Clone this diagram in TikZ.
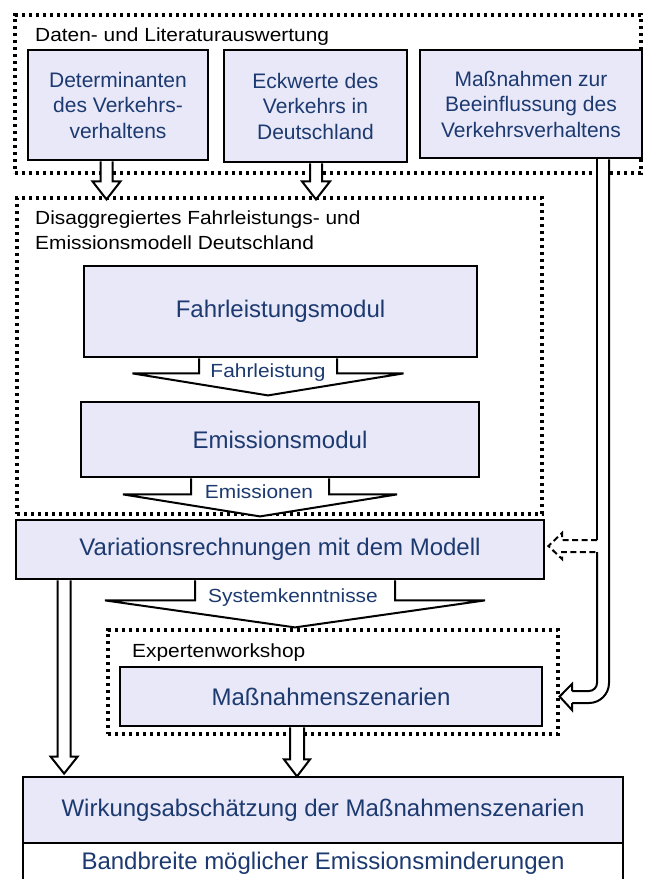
\documentclass[tikz,border=0pt]{standalone}
\usepackage{fontspec}
\setmainfont{Liberation Sans}
\newfontfamily\widesans[FakeStretch=1.1]{Liberation Sans}
\usetikzlibrary{calc}

\definecolor{boxfill}{RGB}{232,232,248}
\definecolor{navy}{RGB}{28,58,112}

\tikzset{
  stepbox/.style={draw=black, line width=2.8pt, fill=boxfill, inner sep=0pt,
    text=navy, align=center},
  plainbox/.style={draw=black, line width=2.8pt, fill=white, inner sep=0pt,
    text=navy, align=center},
  dotframe/.style={draw=black, line width=3.2pt, dash pattern=on 3.2pt off 3.8pt,
    inner sep=0pt},
  framelabel/.style={anchor=base west, inner sep=0pt, text=black,
    font=\widesans\fontsize{19}{25}\selectfont},
  flowlabel/.style={anchor=base, inner sep=0pt, text=navy,
    font=\widesans\fontsize{19}{23}\selectfont},
  hollow/.style={draw=black, line width=2pt, fill=white, line join=miter},
  feed/.style={draw=black, line width=2pt},
  bigtext/.style={font=\fontsize{24}{28}\selectfont},
  smalltext/.style={font=\fontsize{21}{25.5}\selectfont},
}

% block arrow: #1 start (only its y is used), #2 tip,
% #3 half stem width, #4 half head width, #5 head length
\newcommand\hollowarrow[5]{%
  \filldraw[hollow] let \p1=#1, \p2=#2 in
    (\x2-#3,\y1) -- (\x2-#3,\y2+#5) -- (\x2-#4,\y2+#5) -- (\x2,\y2)
    -- (\x2+#4,\y2+#5) -- (\x2+#3,\y2+#5) -- (\x2+#3,\y1);}

\begin{document}
\begin{tikzpicture}[x=1pt,y=-1pt]
\useasboundingbox (0,0) rectangle (646,879);
\clip (0,0) rectangle (646,879);

% dotted frames
\node[dotframe, minimum width=626pt, minimum height=158pt] (daten) at (328,94) {};
\node[dotframe, minimum width=525pt, minimum height=316pt] (disagg) at (279.5,356) {};
\node[dotframe, minimum width=450pt, minimum height=104pt] (xw) at (333,682) {};

\node[framelabel] (datenlab) at (35,41) {Daten- und Literaturauswertung};
\node[framelabel] (disagglab1) at (35,224) {Disaggregiertes Fahrleistungs- und};
\node[framelabel] (disagglab2) at (35,249.5) {Emissionsmodell Deutschland};
\node[framelabel] (xwlab) at (132,657) {Expertenworkshop};

% input boxes
\node[stepbox, smalltext, minimum width=180pt, minimum height=110pt] (b1) at (118,105)
  {Determinanten\\des Verkehrs-\\verhaltens};
\node[stepbox, smalltext, minimum width=183pt, minimum height=112pt] (b2) at (315.5,106)
  {Eckwerte des\\Verkehrs in\\Deutschland};
\node[stepbox, smalltext, minimum width=222pt, minimum height=108pt] (b3) at (531,104)
  {Maßnahmen zur\\Beeinflussung des\\Verkehrsverhaltens};

% model chain
\node[stepbox, bigtext, minimum width=393pt, minimum height=91pt] (fm) at (280.5,311.5)
  {Fahrleistungsmodul};
\node[stepbox, bigtext, minimum width=398pt, minimum height=75pt] (em) at (280,439.5)
  {Emissionsmodul};
\node[stepbox, bigtext, minimum width=528pt, minimum height=59pt] (vr) at (280,549.5)
  {Variationsrechnungen mit dem Modell};
\node[stepbox, bigtext, minimum width=422pt, minimum height=59pt] (ms) at (331,696.5)
  {Maßnahmenszenarien};
\node[plainbox, bigtext, minimum width=600pt, minimum height=40pt] (bb) at (323,863)
  {Bandbreite möglicher Emissionsminderungen};
\node[stepbox, bigtext, minimum width=600pt, minimum height=66pt] (wk) at (323,810)
  {Wirkungsabschätzung der Maßnahmenszenarien};

% arrow tips
\coordinate (t1) at ($(b1.south)+(-11.5,38)$);
\coordinate (t2) at ($(b2.south)+(0.5,36)$);
\coordinate (t3) at ($(fm.south)+(-12.5,37)$);
\coordinate (t4) at ($(em.south)+(-20,38)$);
\coordinate (t5) at ($(vr.south)+(15,47)$);
\coordinate (t6) at ($(wk.north west)+(42.5,-2)$);
\coordinate (t7) at ($(ms.south)+(-34,49)$);

\hollowarrow{(b1.south)}{(t1)}{6pt}{14pt}{18pt}
\hollowarrow{(b2.south)}{(t2)}{6pt}{14pt}{18pt}
\hollowarrow{(fm.south)}{(t3)}{69pt}{135.5pt}{22pt}
\hollowarrow{(em.south)}{(t4)}{69pt}{137pt}{22pt}
\hollowarrow{(vr.south)}{(t5)}{100pt}{190pt}{27pt}
\hollowarrow{(vr.south)}{(t6)}{6.5pt}{13.5pt}{17pt}
\hollowarrow{(ms.south)}{(t7)}{7pt}{13pt}{17pt}

\node[flowlabel] (fl) at (268,377) {Fahrleistung};
\node[flowlabel] (emi) at (259,498) {Emissionen};
\node[flowlabel] (sys) at (293,602) {Systemkenntnisse};

% feed line from the measures box down the right side
\coordinate (fl1) at ($(b3.south)+(66,0)$);   % inner line top
\coordinate (fr1) at ($(b3.south)+(78,0)$);   % outer line top
\coordinate (vtip) at ($(vr.east)+(3,-3.5)$);
\coordinate (mtip) at (xw.east |- ms.east);

\fill[white] (fl1) -- (fr1) -- (609,703) -- (572,703) -- (572,691) -- (597,691) -- cycle;
\draw[feed, rounded corners=20pt] (fr1) -- (609,703) -- (572,703);
\draw[feed] (fl1) -- (597,540);
\draw[feed, rounded corners=8pt] (597,552) -- (597,691) -- (572,691);
\draw[feed, fill=white, line join=miter]
  (572,691) -- (572,684) -- (mtip) -- (572,710) -- (572,703);
\draw[feed, dash pattern=on 6pt off 3.5pt, line join=miter]
  (597,540) -- (562,540) -- (562,533) -- (vtip) -- (562,559) -- (562,552) -- (597,552);
\end{tikzpicture}
\end{document}
